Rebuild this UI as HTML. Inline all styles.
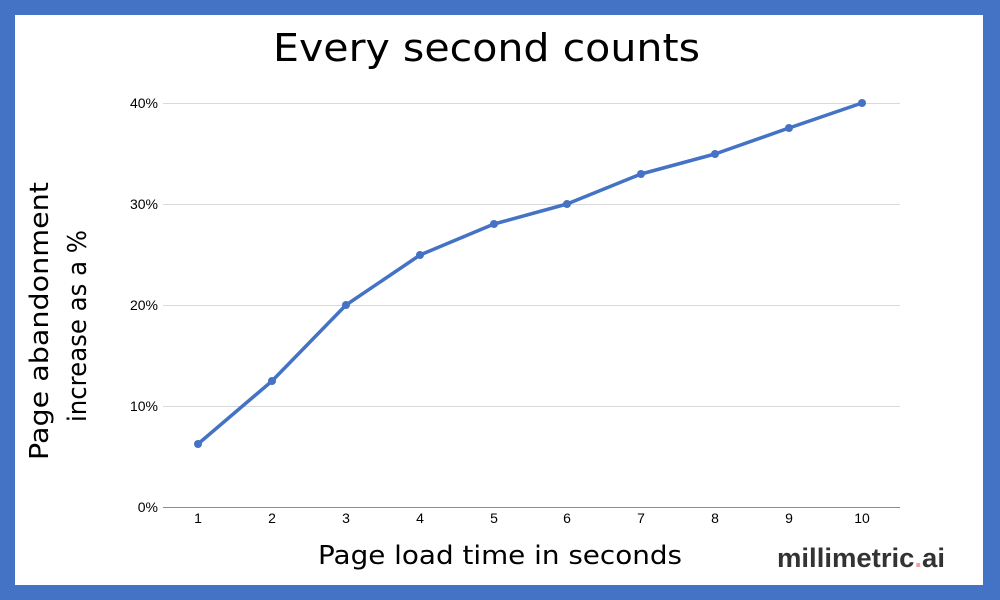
<!DOCTYPE html>
<html><head><style>
body{margin:0;width:1000px;height:600px;overflow:hidden;background:#4472C4;}
</style></head><body>
<svg width="1000" height="600" xmlns="http://www.w3.org/2000/svg" style="position:absolute;left:0;top:0">
<rect x="0" y="0" width="1000" height="600" fill="#4472C4"/>
<rect x="15" y="15" width="968" height="570" fill="#fff"/>
<text x="273" y="61" font-family="DejaVu Sans, sans-serif" font-size="38" fill="#000" textLength="427" lengthAdjust="spacingAndGlyphs">Every second counts</text>
<g stroke="#d9d9d9" stroke-width="1">
<line x1="163" x2="900" y1="103.5" y2="103.5"/>
<line x1="163" x2="900" y1="204.5" y2="204.5"/>
<line x1="163" x2="900" y1="305.5" y2="305.5"/>
<line x1="163" x2="900" y1="406.5" y2="406.5"/>
</g>
<line x1="163" x2="900" y1="507.5" y2="507.5" stroke="#8c8c8c" stroke-width="1"/>
<g font-family="Liberation Sans, sans-serif" font-size="14" fill="#000" text-anchor="end">
<text x="158" y="108">40%</text><text x="158" y="209">30%</text><text x="158" y="310">20%</text><text x="158" y="411">10%</text><text x="158" y="512">0%</text>
</g>
<g font-family="Liberation Sans, sans-serif" font-size="14" fill="#000" text-anchor="middle">
<text x="198" y="523">1</text><text x="272" y="523">2</text><text x="346" y="523">3</text><text x="420" y="523">4</text><text x="494" y="523">5</text><text x="567" y="523">6</text><text x="641" y="523">7</text><text x="715" y="523">8</text><text x="789" y="523">9</text><text x="862" y="523">10</text>
</g>
<polyline fill="none" stroke="#4472C4" stroke-width="3.5" stroke-linejoin="round" points="198,444 272,381 346,305 420,255 494,224 567,204 641,174 715,154 789,128 862,103"/>
<g fill="#4472C4">
<circle cx="198" cy="444" r="4"/><circle cx="272" cy="381" r="4"/><circle cx="346" cy="305" r="4"/><circle cx="420" cy="255" r="4"/><circle cx="494" cy="224" r="4"/><circle cx="567" cy="204" r="4"/><circle cx="641" cy="174" r="4"/><circle cx="715" cy="154" r="4"/><circle cx="789" cy="128" r="4"/><circle cx="862" cy="103" r="4"/>
</g>
<text x="318" y="564" font-family="DejaVu Sans, sans-serif" font-size="26" fill="#000" textLength="364" lengthAdjust="spacingAndGlyphs">Page load time in seconds</text>
<g font-family="DejaVu Sans, sans-serif" font-size="26" fill="#000">
<text transform="translate(48,460) rotate(-90)" textLength="278" lengthAdjust="spacingAndGlyphs">Page abandonment</text>
<text transform="translate(86,422) rotate(-90)" textLength="192" lengthAdjust="spacingAndGlyphs">increase as a %</text>
</g>
<text x="777" y="567" font-family="Liberation Sans, sans-serif" font-size="27" font-weight="bold" fill="#333" textLength="168" lengthAdjust="spacingAndGlyphs">millimetric<tspan fill="#f4a0a0">.</tspan>ai</text>
</svg>
</body></html>
